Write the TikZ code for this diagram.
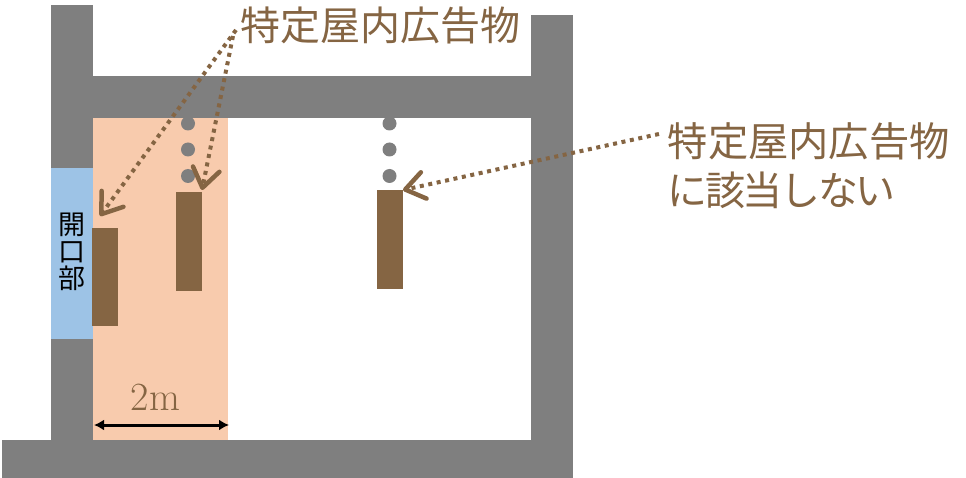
\documentclass[tikz,border=0pt]{standalone}
\usepackage{fontspec}
\usetikzlibrary{arrows.meta}
\newfontfamily\cjk{Noto Sans CJK JP}
\newfontfamily\cjktight[LetterSpace=-6]{Noto Sans CJK JP}
\definecolor{wallgray}{HTML}{7F7F7F}
\definecolor{signbrown}{HTML}{856543}
\definecolor{zoneorange}{HTML}{F8CBAD}
\definecolor{openblue}{HTML}{9DC3E6}
\tikzset{
  x=1pt,y=-1pt,
  wall/.style={fill=wallgray,draw=none},
  signboard/.style={fill=signbrown,draw=none,inner sep=0pt,minimum width=26pt,anchor=north west},
  hang/.style={circle,fill=wallgray,draw=none,inner sep=0pt,minimum size=14pt},
  brownlabel/.style={text=signbrown,font=\cjk\fontsize{40.3}{50}\selectfont,inner sep=0pt,anchor=west},
  leader/.style={draw=signbrown,line width=4pt,dash pattern=on 4pt off 4.6pt,
     -{Straight Barb[length=19pt,width=27pt,line width=4.5pt,round,sep=0pt]}},
  opening/.style={font=\cjk\fontsize{27}{28}\selectfont,text=black,inner sep=0pt,align=center},
}
\begin{document}
\begin{tikzpicture}
\useasboundingbox (0,0) rectangle (966,478);
% zones
\fill[zoneorange] (93,118) rectangle (228,440);
% walls
\fill[wall] (51,5) rectangle (93,168);
\fill[wall] (51,339) rectangle (93,440);
\fill[wall] (93,76) rectangle (531,118);
\fill[wall] (531,15) rectangle (573,440);
\fill[wall] (2,440) rectangle (573,478);
\fill[openblue] (51,168) rectangle (93,339);
% hanging points
\foreach \x/\n in {188/a,389.5/b}{
  \node[hang] (\n1) at (\x,123.5) {};
  \node[hang] (\n2) at (\x,149.5) {};
  \node[hang] (\n3) at (\x,176) {};
}
% signs
\node[signboard,minimum height=98pt] (s1) at (92,228) {};
\node[signboard,minimum height=99pt] (s2) at (176,192) {};
\node[signboard,minimum height=99pt] (s3) at (377,190) {};
% labels
\node[brownlabel,font=\cjk\fontsize{40}{50}\selectfont] (t1) at (240,25) {特定屋内広告物};
\node[brownlabel] (t2) at (667.5,141) {特定屋内広告物};
\node[brownlabel,font=\cjktight\fontsize{40}{50}\selectfont] (t3) at (667.5,190) {に該当しない};
\node[opening] (op) at (72,252) {開\\[-1pt]口\\[-1pt]部};
\node[text=signbrown,font=\fontsize{40}{42}\selectfont,inner sep=0pt] (dim) at (155.5,397) {2m};
% connectors
\coordinate (c1) at (236,30);
\coordinate (c2) at (233,36);
\coordinate (c3) at (659,134);
\coordinate (e1) at (100,216);
\coordinate (e2) at (202,190);
\coordinate (e3) at (403,190);
\draw[leader] (c1) -- (e1);
\draw[leader] (c2) -- (e2);
\draw[leader] (c3) -- (e3);
\coordinate (d1) at (94,425);
\coordinate (d2) at (229,425);
\draw[line width=3pt,{Latex[length=10pt,width=11pt]}-{Latex[length=10pt,width=11pt]}] (d1) -- (d2);
\end{tikzpicture}
\end{document}
